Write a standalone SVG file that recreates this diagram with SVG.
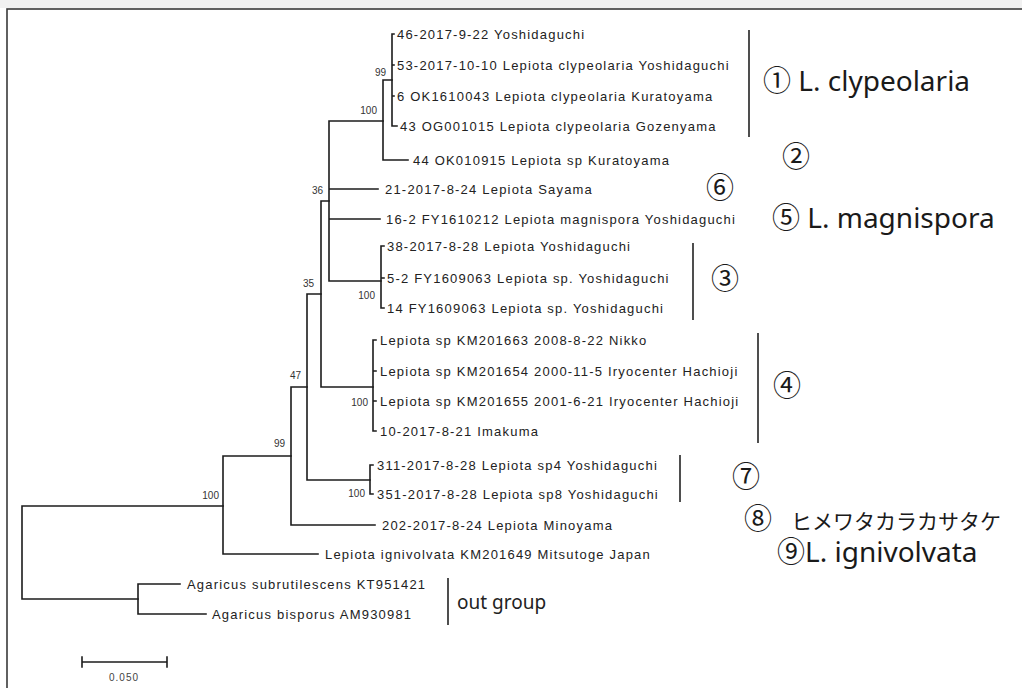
<svg xmlns="http://www.w3.org/2000/svg" width="1022" height="688" viewBox="0 0 1022 688">
<style>
.br{fill:none;stroke:#1c1c1c;stroke-width:1.6;stroke-linecap:square}
.bar{stroke:#222;stroke-width:1.6}
.leaf{font-family:"Liberation Sans",Arial,sans-serif;font-size:13px;letter-spacing:1.2px;fill:#222}
.bs{font-family:"Liberation Sans",Arial,sans-serif;font-size:10px;fill:#333;text-anchor:end}
.big{font-family:"Noto Sans","Noto Sans CJK JP",sans-serif;font-size:28px;fill:#1a1a1a}
.og{font-family:"Noto Sans","Noto Sans CJK JP",sans-serif;font-size:19px;fill:#222}
</style>
<rect width="1022" height="688" fill="#ffffff"/>
<rect x="0" y="0" width="1022" height="8" fill="#f1f1f1"/>
<rect x="7" y="9" width="1030" height="700" fill="none" stroke="#3a3a3a" stroke-width="1.6"/>

<g id="connectors">
<path class="br" d="M22,506V599M22,506H223M22,599H138"/>
<path class="br" d="M138,584V614M138,584H180M138,614H206"/>
<path class="br" d="M223,456V554M223,456H291M223,554H318"/>
<path class="br" d="M291,387V525M291,387H307M291,525H375"/>
<path class="br" d="M307,294V480M307,294H321M307,480H370"/>
<path class="br" d="M370,465V494M370,465H373M370,494H373"/>
<path class="br" d="M321,201V387M321,201H329M321,387H373"/>
<path class="br" d="M373,340V431M373,340H376M373,371H376M373,401H376M373,431H376"/>
<path class="br" d="M329,121V281M329,121H383M329,189H378M329,219H380M329,281H381"/>
<path class="br" d="M381,246V308M381,246H384M381,278H384M381,308H384"/>
<path class="br" d="M383,80V160M383,80H392M383,160H408"/>
<path class="br" d="M392,34V126M392,34H394M392,65H394M392,96H394M392,126H397"/>
</g>

<g id="bootstrap">
<text class="bs" x="386" y="76">99</text>
<text class="bs" x="377" y="114">100</text>
<text class="bs" x="323" y="194">36</text>
<text class="bs" x="314" y="287">35</text>
<text class="bs" x="375" y="299">100</text>
<text class="bs" x="301" y="379">47</text>
<text class="bs" x="368" y="406">100</text>
<text class="bs" x="285" y="447">99</text>
<text class="bs" x="365" y="497">100</text>
<text class="bs" x="219" y="499">100</text>
</g>

<g id="leaf1"><text class="leaf" x="397" y="38.5">46-2017-9-22 Yoshidaguchi</text></g>
<g id="leaf2"><text class="leaf" x="397" y="69.5">53-2017-10-10 Lepiota clypeolaria Yoshidaguchi</text></g>
<g id="leaf3"><text class="leaf" x="397" y="100.5">6 OK1610043 Lepiota clypeolaria Kuratoyama</text></g>
<g id="leaf4"><text class="leaf" x="400" y="130.5">43 OG001015 Lepiota clypeolaria Gozenyama</text></g>
<g id="leaf5"><text class="leaf" x="413" y="164.5">44 OK010915 Lepiota sp Kuratoyama</text></g>
<g id="leaf6"><text class="leaf" x="385" y="193.5">21-2017-8-24 Lepiota Sayama</text></g>
<g id="leaf7"><text class="leaf" x="386" y="223.5">16-2 FY1610212 Lepiota magnispora Yoshidaguchi</text></g>
<g id="leaf8"><text class="leaf" x="387" y="250.5">38-2017-8-28 Lepiota Yoshidaguchi</text></g>
<g id="leaf9"><text class="leaf" x="387" y="282.5">5-2 FY1609063 Lepiota sp. Yoshidaguchi</text></g>
<g id="leaf10"><text class="leaf" x="387" y="312.5">14 FY1609063 Lepiota sp. Yoshidaguchi</text></g>
<g id="leaf11"><text class="leaf" x="380" y="344.5">Lepiota sp KM201663 2008-8-22 Nikko</text></g>
<g id="leaf12"><text class="leaf" x="380" y="375.5">Lepiota sp KM201654 2000-11-5 Iryocenter Hachioji</text></g>
<g id="leaf13"><text class="leaf" x="380" y="405.5">Lepiota sp KM201655 2001-6-21 Iryocenter Hachioji</text></g>
<g id="leaf14"><text class="leaf" x="380" y="435.5">10-2017-8-21 Imakuma</text></g>
<g id="leaf15"><text class="leaf" x="377" y="469.5">311-2017-8-28 Lepiota sp4 Yoshidaguchi</text></g>
<g id="leaf16"><text class="leaf" x="377" y="498.5">351-2017-8-28 Lepiota sp8 Yoshidaguchi</text></g>
<g id="leaf17"><text class="leaf" x="382" y="529.5">202-2017-8-24 Lepiota Minoyama</text></g>
<g id="leaf18"><text class="leaf" x="325" y="558.5">Lepiota ignivolvata KM201649 Mitsutoge Japan</text></g>
<g id="leaf19"><text class="leaf" x="187" y="588.5">Agaricus subrutilescens KT951421</text></g>
<g id="leaf20"><text class="leaf" x="212" y="618.5">Agaricus bisporus AM930981</text></g>

<g id="group1"><line class="bar" x1="749" y1="30" x2="749" y2="137"/><text class="big" x="763" y="91">① L. clypeolaria</text></g>
<g id="group2"><text class="big" x="782" y="167">②</text></g>
<g id="group6"><text class="big" x="706" y="198">⑥</text></g>
<g id="group5"><text class="big" x="772" y="228">⑤ L. magnispora</text></g>
<g id="group3"><line class="bar" x1="693" y1="243" x2="693" y2="320"/><text class="big" x="711" y="289">③</text></g>
<g id="group4"><line class="bar" x1="758" y1="333" x2="758" y2="443"/><text class="big" x="773" y="396">④</text></g>
<g id="group7"><line class="bar" x1="680" y1="455" x2="680" y2="502"/><text class="big" x="732" y="487">⑦</text></g>
<g id="group8"><text class="big" x="744" y="529">⑧</text><text x="791" y="529" font-size="21" font-family="'Noto Sans CJK JP',sans-serif" fill="#1a1a1a">ヒメワタカラカサタケ</text></g>
<g id="group9"><text class="big" x="777" y="562">⑨L. ignivolvata</text></g>
<g id="outgroup"><line class="bar" x1="448" y1="578" x2="448" y2="625"/><text class="og" x="457" y="609">out group</text></g>

<g id="scalebar">
<path class="br" d="M82,662H167M82,657V667M167,657V667"/>
<text x="124" y="681" text-anchor="middle" font-family="'Liberation Sans',Arial,sans-serif" font-size="10" letter-spacing="1" fill="#444">0.050</text>
</g>
</svg>
